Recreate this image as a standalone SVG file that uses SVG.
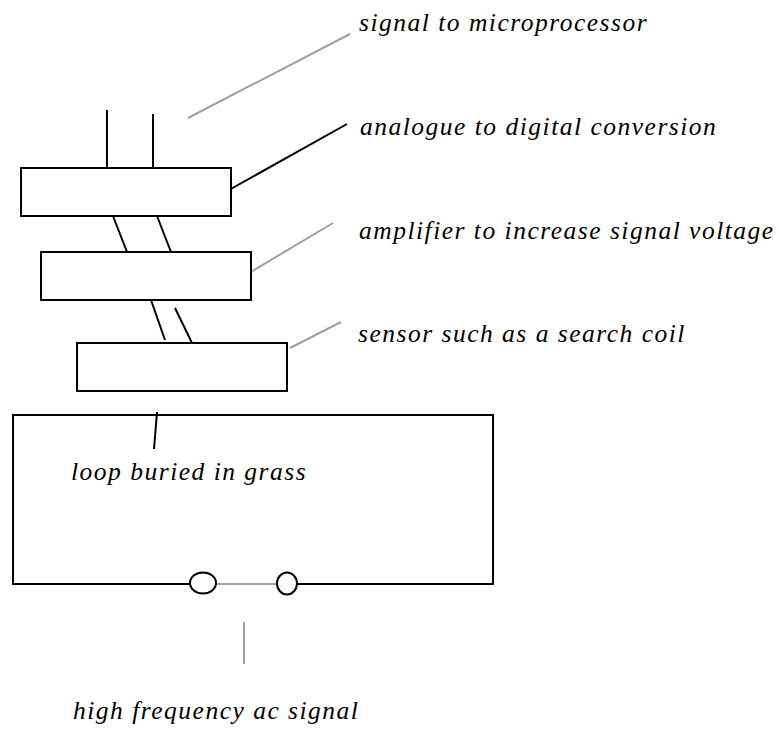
<svg xmlns="http://www.w3.org/2000/svg" width="779" height="734" viewBox="0 0 779 734">
<style>
.box{fill:#fff;stroke:#000;stroke-width:2}
.w{stroke:#000;stroke-width:2;fill:none}
.g{stroke:#a0a0a0;stroke-width:2;fill:none}
.t{font-family:"Liberation Serif","Times New Roman",serif;font-style:italic;font-size:25.5px;letter-spacing:1.5px;fill:#000}
</style>
<rect width="779" height="734" fill="#fff"/>
<g id="connectors">
<line class="w" x1="107" y1="110" x2="107" y2="168"/>
<line class="w" x1="153" y1="114" x2="153" y2="170"/>
<line class="w" x1="113" y1="216" x2="127" y2="252"/>
<line class="w" x1="157" y1="216" x2="171" y2="252"/>
<line class="w" x1="151" y1="300" x2="165" y2="340"/>
<line class="w" x1="175" y1="308" x2="192" y2="343"/>
<line class="g" x1="188" y1="118" x2="350" y2="34"/>
<line class="w" x1="229" y1="190" x2="347" y2="124"/>
<line class="g" x1="249" y1="273" x2="333" y2="223"/>
<line class="g" x1="290" y1="348" x2="341" y2="322"/>
<line class="w" x1="157" y1="412" x2="154" y2="449"/>
<line class="g" x1="244" y1="622" x2="244" y2="664"/>
</g>
<g id="adc"><rect class="box" x="21" y="168" width="210" height="48"/></g>
<g id="amplifier"><rect class="box" x="41" y="252" width="210" height="48"/></g>
<g id="sensor"><rect class="box" x="77" y="343" width="210" height="48"/></g>
<g id="loop">
<path class="w" d="M190 584 H13 V415 H493 V584 H297"/>
<line class="g" x1="216" y1="584" x2="277" y2="584" stroke-width="1.5"/>
<ellipse class="w" cx="203" cy="583" rx="13" ry="10.5"/>
<ellipse class="w" cx="287" cy="583.5" rx="10" ry="11"/>
</g>
<g id="labels">
<text class="t" x="359" y="31">signal to microprocessor</text>
<text class="t" x="360" y="135">analogue to digital conversion</text>
<text class="t" x="359" y="239">amplifier to increase signal voltage</text>
<text class="t" x="358" y="342">sensor such as a search coil</text>
<text class="t" x="71" y="480">loop buried in grass</text>
<text class="t" x="73" y="719">high frequency ac signal</text>
</g>
</svg>
